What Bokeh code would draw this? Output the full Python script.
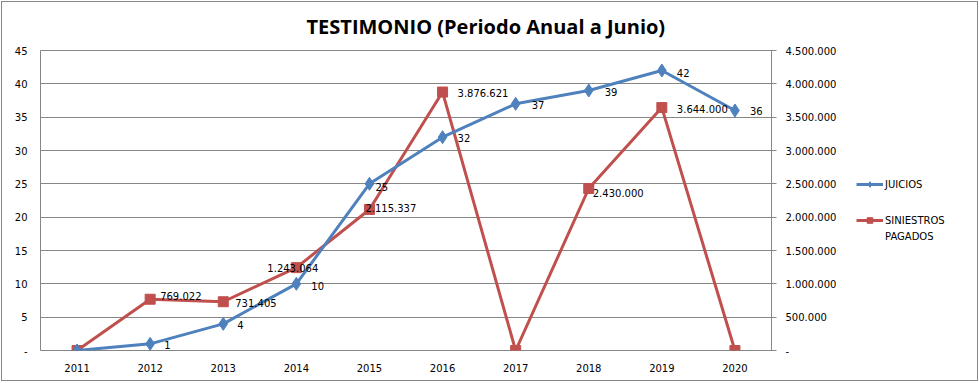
from bokeh.plotting import figure
from bokeh.layouts import row
from bokeh.models import (ColumnDataSource, Range1d, LinearAxis, FixedTicker,
                          CustomJSTickFormatter, Legend, LegendItem, InlineStyleSheet)
from bokeh.embed import file_html
from bokeh.resources import INLINE
from bokeh.core.properties import value

# ---- data ----
years = ["2011", "2012", "2013", "2014", "2015", "2016", "2017", "2018", "2019", "2020"]
juicios = [0, 1, 4, 10, 25, 32, 37, 39, 42, 36]
siniestros = [0, 769022, 731405, 1243064, 2115337, 3876621, 0, 2430000, 3644000, 0]
left_ticks = [0, 5, 10, 15, 20, 25, 30, 35, 40, 45]
right_ticks = [0, 500000, 1000000, 1500000, 2000000, 2500000, 3000000, 3500000, 4000000, 4500000]
series_names = ["JUICIOS", "SINIESTROS", "PAGADOS"]

# ---- label placement (style, in pixels) ----
jui_dx = [15, 14, 14, 15, 6, 15, 16, 16, 15, 15]
jui_dy = [0, 1, 1, 2, 3, 1, 1, 1, 2, 0]
sin_dx = [15, 10, 12, -29, -4, 15, 18, 4, 15, 18]
sin_dy = [0, -3, 1, 0, -1, 1, 0, 4, 1, 0]


def fmt(v):
    return "-" if v == 0 else f"{v:,}".replace(",", ".")


BLUE = "#4F81BD"
RED = "#C0504D"
GRID = "#868686"
FONT = "DejaVu Sans"

p = figure(width=850, height=383, x_range=years, y_range=Range1d(0, 45),
           output_backend="svg", toolbar_location=None,
           min_border_left=40, min_border_right=79, min_border_top=50, min_border_bottom=33)
p.extra_y_ranges = {"sin": Range1d(0, 4500000)}

p.title.text = "TESTIMONIO (Periodo Anual a Junio)"
p.title.text_font = "Open Sans"
p.title.text_font_style = "bold"
p.title.text_font_size = "20px"
p.title.align = "left"
p.title.offset = 266
p.title.standoff = 21
p.title.text_color = "#000000"

p.outline_line_color = GRID
p.outline_line_width = 1
p.xgrid.grid_line_color = None
p.ygrid.grid_line_color = GRID
p.ygrid.grid_line_width = 1

# left axis
la = p.yaxis[0]
la.ticker = FixedTicker(ticks=left_ticks)
la.formatter = CustomJSTickFormatter(code="return tick == 0 ? '-' : tick.toString();")
la.axis_line_color = None
la.major_tick_line_color = None
la.major_tick_out = 0
la.major_tick_in = 0
la.minor_tick_line_color = None
la.minor_tick_out = 0
la.major_label_standoff = 13
la.major_label_text_font = FONT
la.major_label_text_font_size = "10px"
la.major_label_text_color = "#000000"

# bottom axis
xa = p.xaxis[0]
xa.axis_line_color = None
xa.major_tick_line_color = None
xa.major_tick_out = 0
xa.major_tick_in = 0
xa.minor_tick_line_color = None
xa.major_label_standoff = 13
xa.major_label_text_font = FONT
xa.major_label_text_font_size = "10px"
xa.major_label_text_color = "#000000"

# right axis
ra = LinearAxis(y_range_name="sin",
                ticker=FixedTicker(ticks=right_ticks),
                formatter=CustomJSTickFormatter(code="""
                    if (tick == 0) { return '-'; }
                    return Math.round(tick).toString().replace(/\\B(?=(\\d{3})+(?!\\d))/g, '.');
                """))
ra.axis_line_color = GRID
ra.major_tick_line_color = GRID
ra.major_tick_out = 5
ra.major_tick_in = 0
ra.minor_tick_line_color = None
ra.minor_tick_out = 0
ra.major_label_standoff = 9
ra.major_label_text_font = FONT
ra.major_label_text_font_size = "10px"
ra.major_label_text_color = "#000000"
p.add_layout(ra, "right")

src = ColumnDataSource(dict(
    x=years, j=juicios, s=siniestros,
    jl=[fmt(v) for v in juicios], sl=[fmt(v) for v in siniestros],
    jdx=jui_dx, jdy=jui_dy, sdx=sin_dx, sdy=sin_dy,
))

p.line("x", "s", source=src, y_range_name="sin", line_color=RED, line_width=3)
p.scatter("x", "s", source=src, y_range_name="sin", marker="square", size=10,
          fill_color=RED, line_color=RED)
p.line("x", "j", source=src, line_color=BLUE, line_width=3)
p.scatter("x", "j", source=src, marker="diamond", size=13,
          fill_color=BLUE, line_color=BLUE)

p.text("x", "j", text="jl", source=src, x_offset="jdx", y_offset="jdy",
       text_font=value(FONT), text_font_size="10px", text_color="#000000",
       text_baseline="middle", text_align="left")
p.text("x", "s", text="sl", source=src, y_range_name="sin", x_offset="sdx", y_offset="sdy",
       text_font=value(FONT), text_font_size="10px", text_color="#000000",
       text_baseline="middle", text_align="left")

# ---- legend panel (separate figure; its glyphs sit outside its visible range) ----
lf = figure(width=129, height=383, x_range=years, y_range=Range1d(1e9, 2e9),
            output_backend="svg", toolbar_location=None,
            x_axis_location=None, y_axis_location=None,
            min_border=0, min_border_left=0, min_border_right=0,
            min_border_top=0, min_border_bottom=0)
lf.outline_line_color = None
lf.xgrid.grid_line_color = None
lf.ygrid.grid_line_color = None
lj_line = lf.line("x", "j", source=src, line_color=BLUE, line_width=3)
lj_mark = lf.scatter("x", "j", source=src, marker="diamond", size=9,
                     fill_color=BLUE, line_color=BLUE)
ls_line = lf.line("x", "s", source=src, line_color=RED, line_width=3)
ls_mark = lf.scatter("x", "s", source=src, marker="square", size=10,
                     fill_color=RED, line_color=RED)
blank = lf.line("x", "s", source=src, line_alpha=0)


def style_legend(lg, spacing):
    lg.background_fill_alpha = 0
    lg.border_line_alpha = 0
    lg.padding = 0
    lg.margin = 0
    lg.spacing = spacing
    lg.glyph_width = 27
    lg.glyph_height = 14
    lg.label_height = 14
    lg.label_standoff = 2
    lg.label_text_font = FONT
    lg.label_text_font_size = "10px"
    lg.label_text_color = "#000000"


lg1 = Legend(items=[LegendItem(label=series_names[0], renderers=[lj_line, lj_mark])],
             location=(6, 159))
style_legend(lg1, 0)
lg2 = Legend(items=[LegendItem(label=series_names[1], renderers=[ls_line, ls_mark]),
                    LegendItem(label=series_names[2], renderers=[blank])],
             location=(6, 107))
style_legend(lg2, 2)
lf.add_layout(lg1, "center")
lf.add_layout(lg2, "center")

layout = row(p, lf, spacing=0)
layout.stylesheets = [InlineStyleSheet(css="""
:host { position: relative; }
:host::after { content: ""; position: absolute; left: 1px; top: 1px; right: 1px; bottom: 2px;
  border: 1px solid #868686; pointer-events: none; z-index: 1000; }
""")]

open("out.html", "w").write(file_html(layout, INLINE))
